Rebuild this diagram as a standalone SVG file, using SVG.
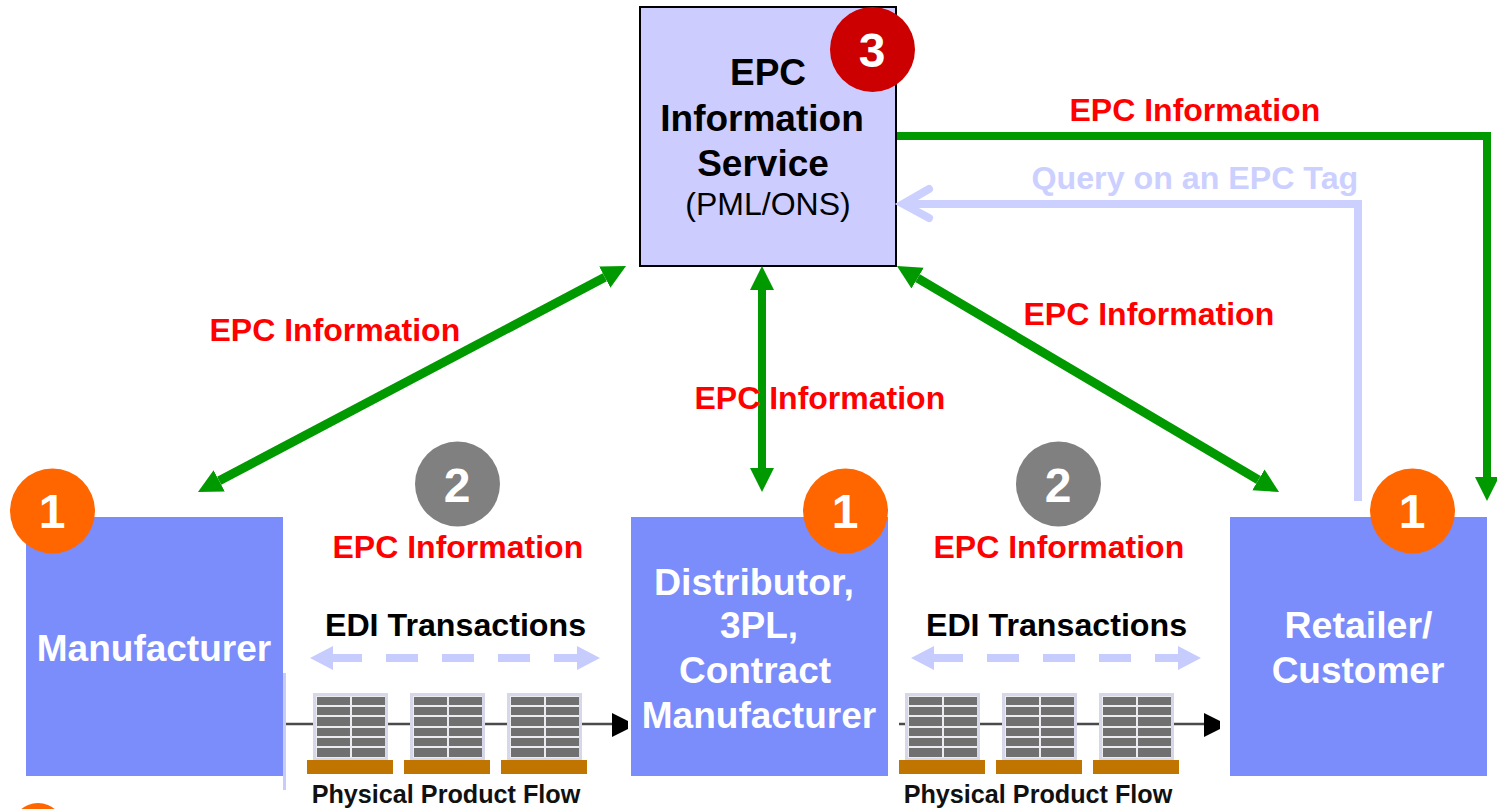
<svg xmlns="http://www.w3.org/2000/svg" xmlns:xlink="http://www.w3.org/1999/xlink" width="1497" height="809" viewBox="0 0 1497 809">
<style>
text{font-family:"Liberation Sans",Arial,sans-serif}
.lbl{font-weight:bold;font-size:32px;fill:#ff0000}
.q{font-weight:bold;font-size:32.200px;fill:#ccd0ff}
.edi{font-weight:bold;font-size:32.200px;fill:#000;text-anchor:middle}
.ppf{font-weight:bold;font-size:25.200px;fill:#111;text-anchor:middle}
.node{fill:#7b8cfb}
.wt{font-weight:bold;font-size:37px;fill:#fff;text-anchor:middle}
.bt{font-weight:bold;font-size:37px;fill:#000;text-anchor:middle}
.num{font-weight:bold;font-size:48px;fill:#fff;text-anchor:middle}
.o{fill:#ff6600}.g{fill:#808080}.r{fill:#cc0000}
.gl{fill:none;stroke:#009900;stroke-width:8}
.gd{fill:none;stroke:#009900;stroke-width:9}
.ql{fill:none;stroke:#ccd0ff;stroke-width:8}
.dash{fill:#c6ccfd}
.fl{stroke:#4a4a4a;stroke-width:2.500px;fill:none}
</style>
<defs>
<filter id="soft" x="-5%" y="-5%" width="110%" height="110%"><feGaussianBlur stdDeviation="0.5"/></filter>
<marker id="h" markerUnits="userSpaceOnUse" markerWidth="26" markerHeight="26" viewBox="0 -13 26 26" refX="0" refY="0" orient="auto-start-reverse">
<path d="M0-12L24 0L0 12Z" fill="#009900"/>
</marker>
<g id="crate">
<rect x="0" y="0" width="75" height="67" fill="#d6d8ea"/>
<rect x="3" y="3" width="69" height="62" fill="#ececf0"/>
<g fill="#707070">
<rect x="4" y="4" width="33" height="8"/><rect x="39" y="4" width="33" height="8"/>
<rect x="4" y="14" width="33" height="8"/><rect x="39" y="14" width="33" height="8"/>
<rect x="4" y="24" width="33" height="9"/><rect x="39" y="24" width="33" height="9"/>
<rect x="4" y="35" width="33" height="8"/><rect x="39" y="35" width="33" height="8"/>
<rect x="4" y="45" width="33" height="8"/><rect x="39" y="45" width="33" height="8"/>
<rect x="4" y="55" width="33" height="9"/><rect x="39" y="55" width="33" height="9"/>
</g>
</g>
<g id="flow">
<path d="M327 40L343 48V56L327 64Z" fill="#000"/>
<g filter="url(#soft)">
<use xlink:href="#crate" href="#crate" x="28" y="20"/>
<use xlink:href="#crate" href="#crate" x="125" y="20"/>
<use xlink:href="#crate" href="#crate" x="222" y="20"/>
<g fill="#c07505">
<rect x="22" y="87" width="86" height="14"/>
<rect x="119" y="87" width="86" height="14"/>
<rect x="216" y="87" width="86" height="14"/>
</g>
</g>
</g>
<g id="edi">
<path class="dash" d="M0 20L23 8V16H52V24H23V32Z"/>
<rect class="dash" x="76" y="16" width="32" height="8"/>
<rect class="dash" x="132" y="16" width="32" height="8"/>
<rect class="dash" x="188" y="16" width="32" height="8"/>
<path class="dash" d="M244 16H267V8L290 20L267 32V24H244Z"/>
</g>
</defs>

<g id="node-manufacturer"><rect class="node" x="26" y="517" width="257" height="259"/><text class="wt" x="154" y="661">Manufacturer</text></g>
<g id="node-distributor"><rect class="node" x="631" y="517" width="257" height="259"/>
<text class="wt" x="754" y="594.500" style="font-size:37.500px">Distributor,</text><text class="wt" x="759" y="638">3PL,</text><text class="wt" x="755" y="683">Contract</text><text class="wt" x="759" y="728">Manufacturer</text></g>
<g id="node-retailer"><rect class="node" x="1230" y="517" width="257" height="259"/>
<text class="wt" x="1358.500" y="638" style="font-size:37.500px">Retailer/</text><text class="wt" x="1358" y="683">Customer</text></g>

<g id="flow-left"><rect x="283" y="673" width="3" height="117" fill="#c6ccfd"/><path class="fl" d="M286 724H613"/><use xlink:href="#flow" href="#flow" x="285" y="673"/><use xlink:href="#edi" href="#edi" x="310" y="638"/><text class="edi" x="455.500" y="636">EDI Transactions</text><text class="ppf" x="446" y="803">Physical Product Flow</text></g>
<g id="flow-right"><path class="fl" d="M899 724H1204"/><use xlink:href="#flow" href="#flow" x="877" y="673"/><use xlink:href="#edi" href="#edi" x="911" y="638"/><text class="edi" x="1056.500" y="636">EDI Transactions</text><text class="ppf" x="1038" y="803">Physical Product Flow</text></g>

<g id="node-epcis"><rect x="640" y="7" width="256" height="259" fill="#ccccff" stroke="#000" stroke-width="2"/>
<text class="bt" x="768" y="85">EPC</text><text class="bt" x="762" y="131">Information</text><text class="bt" x="763" y="176">Service</text>
<text x="768" y="215" font-size="32" text-anchor="middle" fill="#000">(PML/ONS)</text></g>

<g id="connectors">
<path class="ql" d="M1358 501V204H906"/>
<path d="M929 189L903 204L929 218" fill="none" stroke="#ccd0ff" stroke-width="8" stroke-linecap="round" stroke-linejoin="miter" stroke-miterlimit="6"/>
<path class="gl" d="M897 136H1487V477" marker-end="url(#h)"/>
<path class="gd" d="M604.800 277.200L219.200 480.800" marker-start="url(#h)" marker-end="url(#h)"/>
<path class="gl" d="M762 290V468" marker-start="url(#h)" marker-end="url(#h)"/>
<path class="gd" d="M917.600 278.200L1258.400 479.800" marker-start="url(#h)" marker-end="url(#h)"/>
</g>

<g id="labels">
<text class="lbl" x="1069.500" y="121">EPC Information</text>
<text class="q" x="1031.500" y="189">Query on an EPC Tag</text>
<text class="lbl" x="209.500" y="341">EPC Information</text>
<text class="lbl" x="1023.500" y="325">EPC Information</text>
<text class="lbl" x="694.500" y="409">EPC Information</text>
<text class="lbl" x="332.500" y="558">EPC Information</text>
<text class="lbl" x="933.500" y="558">EPC Information</text>
</g>

<g id="badge-1a"><circle class="o" cx="52.500" cy="511" r="42.500"/><text class="num" x="52" y="528">1</text></g>
<g id="badge-1b"><circle class="o" cx="845.500" cy="511" r="42.500"/><text class="num" x="845" y="528">1</text></g>
<g id="badge-1c"><circle class="o" cx="1412.500" cy="511" r="42.500"/><text class="num" x="1412" y="528">1</text></g>
<g id="badge-2a"><circle class="g" cx="457.500" cy="484" r="42.500"/><text class="num" x="457" y="502">2</text></g>
<g id="badge-2b"><circle class="g" cx="1058.500" cy="484" r="42.500"/><text class="num" x="1058" y="502">2</text></g>
<g id="badge-3"><circle class="r" cx="872.500" cy="49.500" r="42.500"/><text class="num" x="872" y="67">3</text></g>
<g id="badge-cut"><circle class="o" cx="38" cy="829" r="26"/></g>
</svg>
